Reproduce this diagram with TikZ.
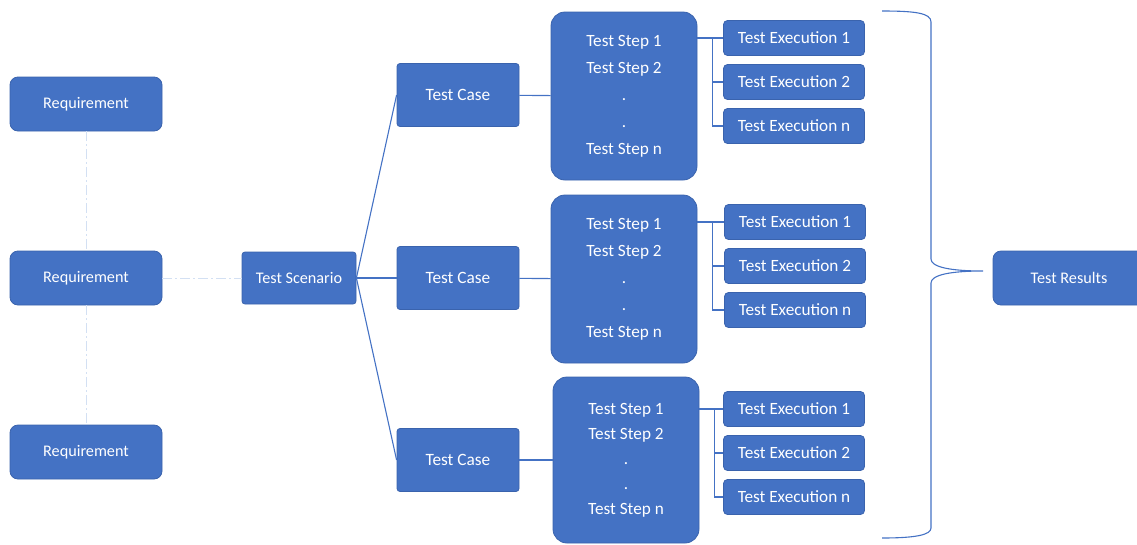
\documentclass[tikz,border=0pt]{standalone}
\usepackage{fontspec}
\setmainfont{Carlito}
\usepackage{xcolor}
\usetikzlibrary{positioning}
\definecolor{boxblue}{HTML}{4472C4}
\definecolor{boxedge}{HTML}{3A63AD}
\definecolor{paleline}{HTML}{D3E0F3}

\tikzset{
	block/.style = {rectangle, draw=boxedge, line width=0.8pt, fill=boxblue, text=white, inner sep=0pt, font=\fontsize{16.2}{19}\selectfont},
	req/.style = {block, rounded corners=8pt, minimum width=152pt, minimum height=54pt},
	scen/.style = {block, rounded corners=3pt, minimum width=114pt, minimum height=52pt},
	tcase/.style = {block, rounded corners=3pt, minimum width=122pt, minimum height=63pt, font=\fontsize{17.3}{20}\selectfont},
	steps/.style = {block, rounded corners=14pt, minimum width=146pt, minimum height=168pt, align=center},
	exec/.style = {block, rounded corners=4pt, minimum width=141pt, minimum height=35pt, font=\fontsize{17.2}{20}\selectfont},
	line/.style = {draw=boxblue, line width=1.1pt},
	trace/.style = {draw=paleline, line width=1pt, dash pattern=on 10pt off 3pt on 2pt off 3pt},
	brace/.style = {draw=boxblue, line width=1.1pt}
}

\begin{document}
\begin{tikzpicture}[x=1pt, y=-1pt, node distance = 44pt]
			\clip (0,0) rectangle (1137,544);
			\node [req] (req1) at (86,104) {Requirement};
			\node [req] (req2) at (86,278) {Requirement};
			\node [req] (req3) at (86,452) {Requirement};
			\node [scen] (scenario) at (299,278) {Test Scenario};
			\node [tcase] (case1) at (458,95) {Test Case};
			\node [tcase] (case2) at (458,278) {Test Case};
			\node [tcase] (case3) at (458,460) {Test Case};
			\node [steps, font=\fontsize{17.2}{27}\selectfont] (steps1) at (624,96) {Test Step 1\\Test Step 2\\.\\.\\Test Step n};
			\node [steps, font=\fontsize{17.2}{27}\selectfont] (steps2) at (624,279) {Test Step 1\\Test Step 2\\.\\.\\Test Step n};
			\node [steps, minimum height=166pt, font=\fontsize{17.2}{25}\selectfont] (steps3) at (626,460) {Test Step 1\\Test Step 2\\.\\.\\Test Step n};
			\node [exec] (exe1a) at (794,38) {Test Execution 1};
			\node [exec, below of = exe1a] (exe1b) {Test Execution 2};
			\node [exec, below of = exe1b] (exe1n) {Test Execution n};
			\node [exec] (exe2a) at (795,222) {Test Execution 1};
			\node [exec, below of = exe2a] (exe2b) {Test Execution 2};
			\node [exec, below of = exe2b] (exe2n) {Test Execution n};
			\node [exec] (exe3a) at (794,409) {Test Execution 1};
			\node [exec, below of = exe3a] (exe3b) {Test Execution 2};
			\node [exec, below of = exe3b] (exe3n) {Test Execution n};
			\node [req] (results) at (1069,278) {Test Results};
			\path [trace] (req1) -- (req2);
			\path [trace] (req2) -- (req3);
			\path [trace] (req2) -- (scenario);
			\path [line] (scenario.east) -- (case1.west);
			\path [line] (scenario.east) -- (case2.west);
			\path [line] (scenario.east) -- (case3.west);
			\path [line] (case1) -- (steps1);
			\path [line] (case2) -- (steps2);
			\path [line] (case3) -- (steps3);
			\foreach \grp in {1,2,3} {
				\path (steps\grp.east |- exe\grp a.west) ++(15,0) coordinate (bus\grp);
				\path [line] (steps\grp.east |- exe\grp a.west) -- (exe\grp a.west);
				\path [line] (bus\grp) |- (exe\grp b.west);
				\path [line] (bus\grp) |- (exe\grp n.west);
			}
			\path [brace] (882,11) .. controls (915,11) and (931,13) .. (931,22) -- (931,259) .. controls (931,267) and (950,271) .. (983,271) .. controls (950,271) and (931,275) .. (931,283) -- (931,528) .. controls (931,535) and (915,538) .. (882,538);
		\end{tikzpicture}
\end{document}
